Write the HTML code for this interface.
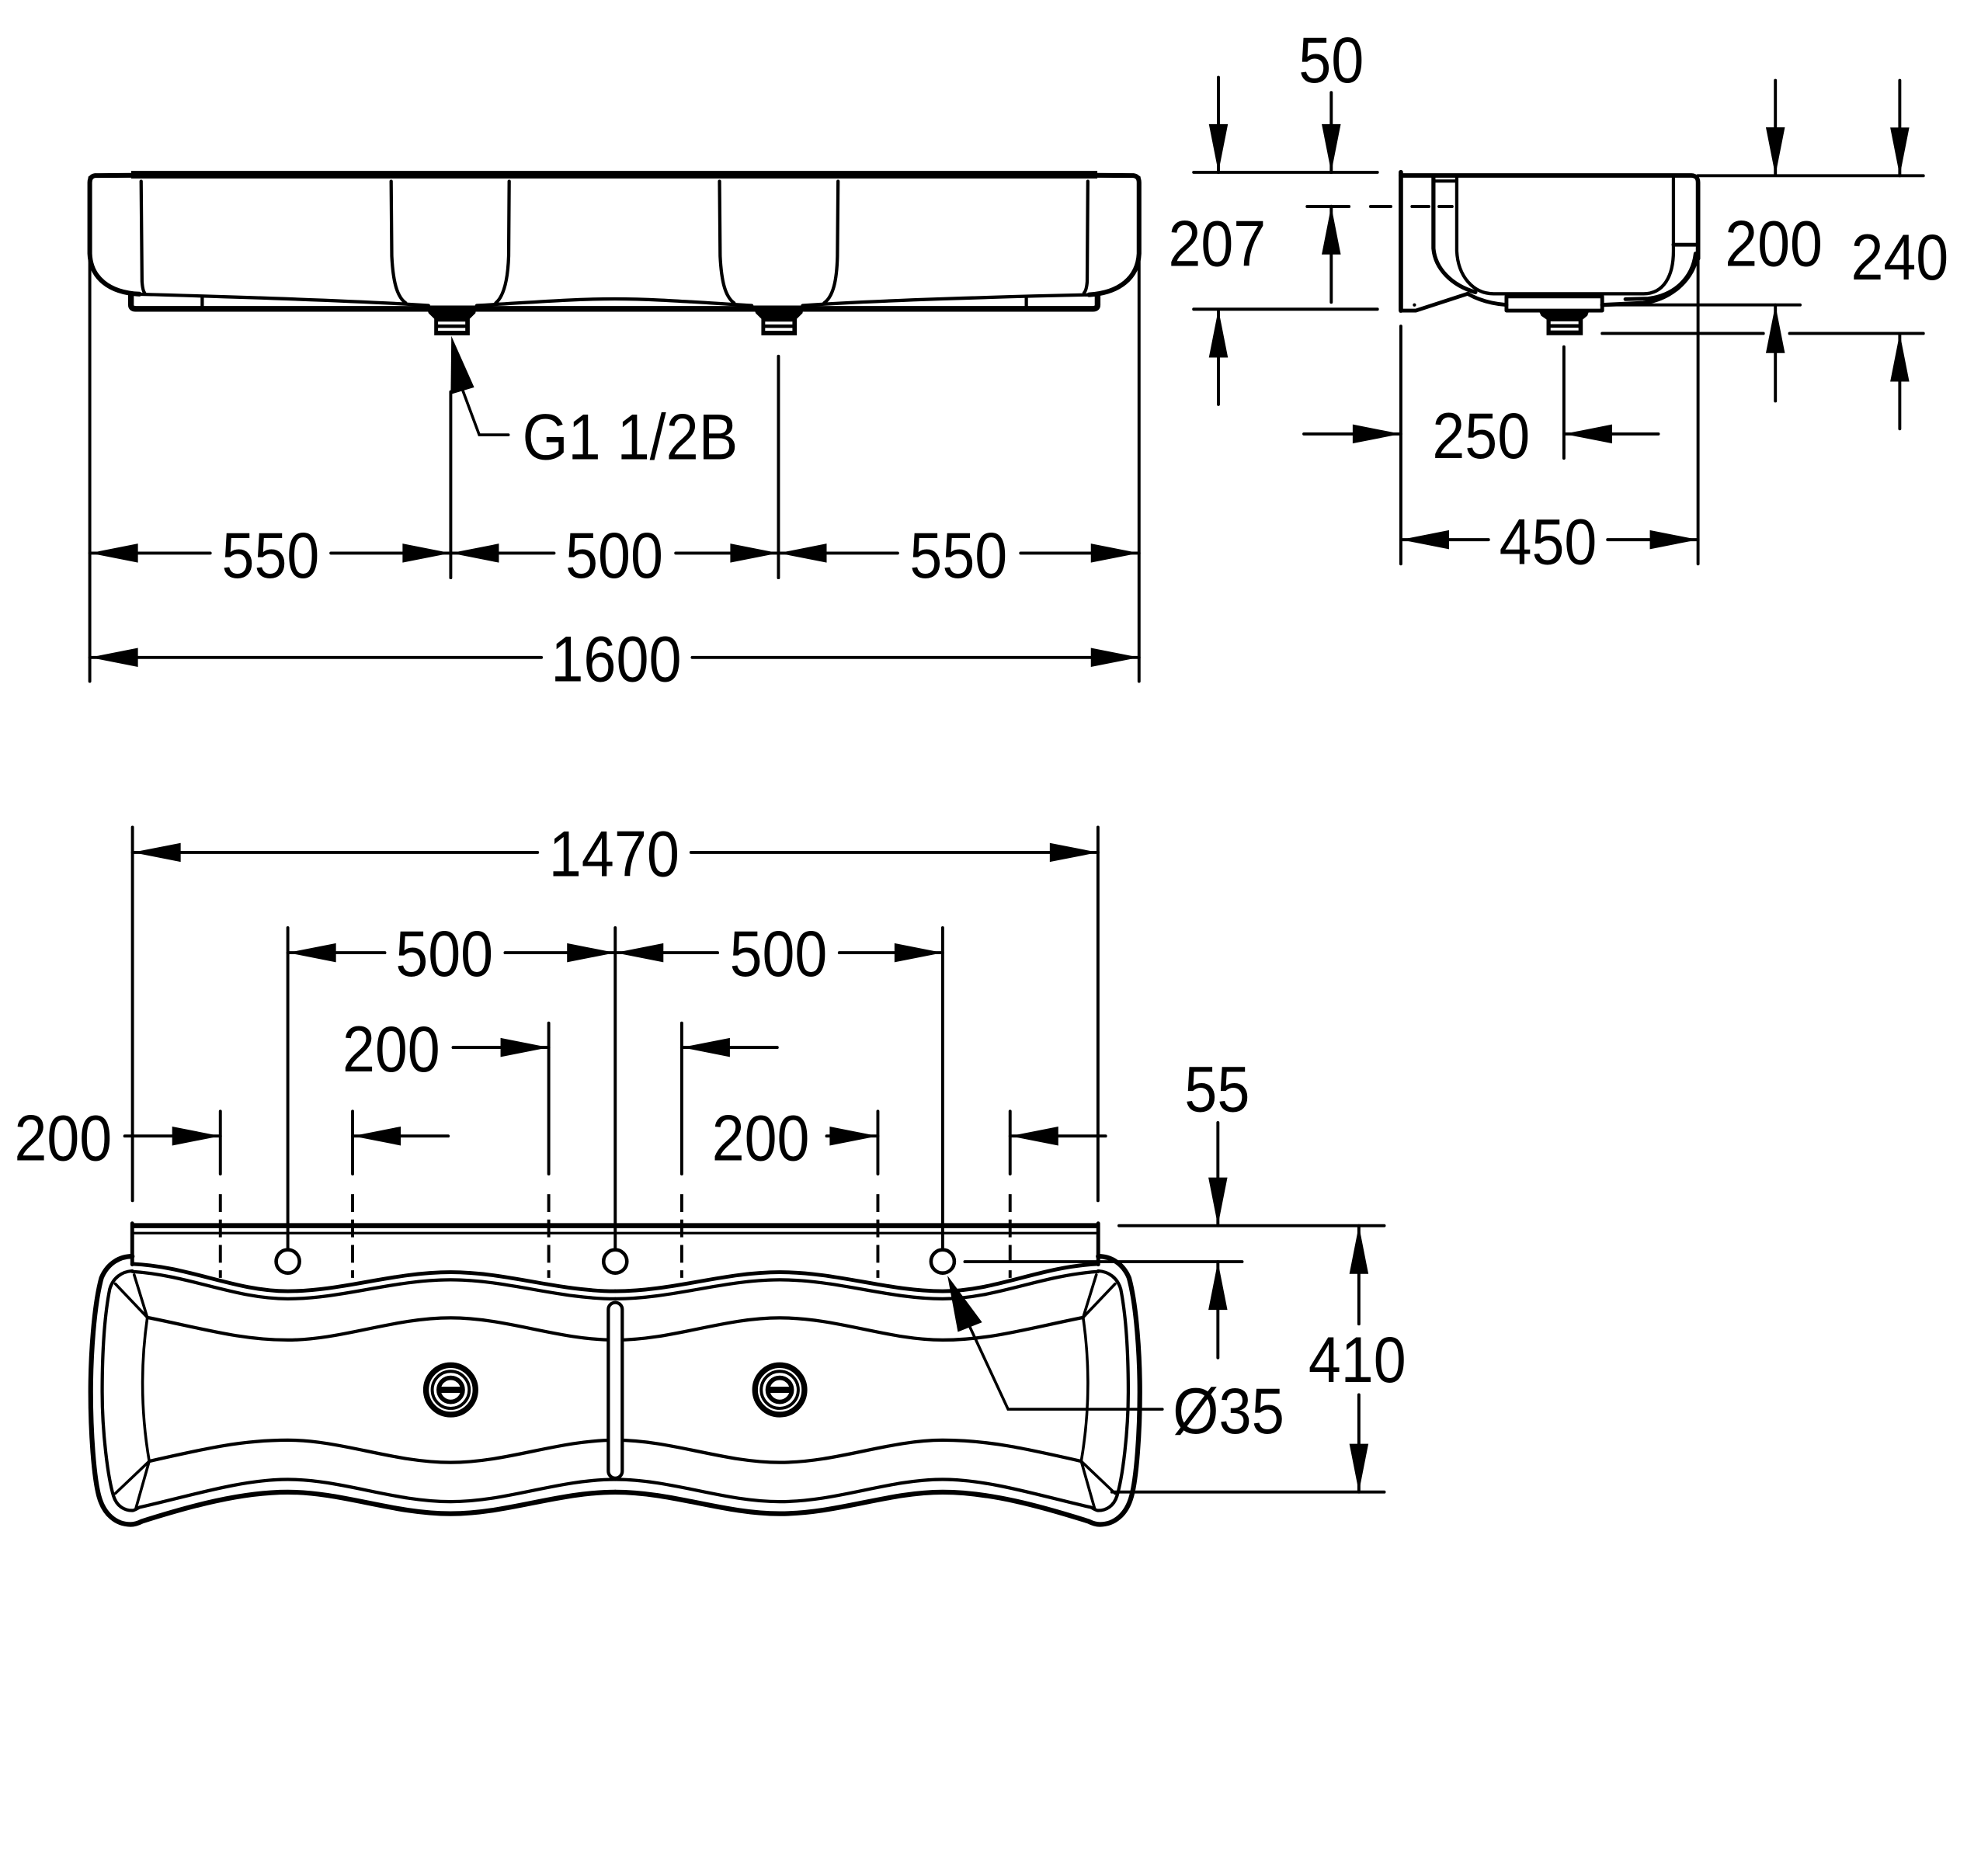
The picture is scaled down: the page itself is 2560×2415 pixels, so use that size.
<!DOCTYPE html>
<html><head><meta charset="utf-8"><style>
html,body{margin:0;padding:0;background:#fff;}
svg{display:block;}
text{font-family:"Liberation Sans",Arial,sans-serif;font-size:51px;fill:#000;}
</style></head><body>
<svg xmlns="http://www.w3.org/2000/svg" xmlns:xlink="http://www.w3.org/1999/xlink" width="2560" height="2415" viewBox="0 0 1568 1479" preserveAspectRatio="none">
<rect x="0" y="0" width="1568" height="1479" fill="#fff"/>
<defs>
<g id="half" fill="none" stroke="#000" stroke-linecap="round" stroke-linejoin="round">
 <path d="M104.3,997 C150,999 185,1018.5 227,1018.5 C270,1018.5 310,1003.5 355.5,1003.5 C400,1003.5 440,1018.5 485.25,1018.5" stroke-width="3"/>
 <path d="M104.3,1003 C150,1006 185,1024.5 227,1024.5 C270,1024.5 310,1009.5 355.5,1009.5 C400,1009.5 440,1024.5 485.25,1024.5" stroke-width="2.6"/>
 <path d="M104.3,991 C95,991 85,996 80,1008 C74,1030 71.5,1070 71.5,1098 C71.5,1130 74,1165 78,1180 C82,1195 92,1202.5 103,1202.5 C106,1202.5 109,1201.5 112,1200 C150,1188 190,1177 227,1177 C270,1177 310,1194 355.5,1194 C400,1194 440,1177 485.25,1177" stroke-width="3.8"/>
 <path d="M104.3,1002.5 C96,1003 89,1008 86.5,1017 C82,1040 80.6,1070 80.6,1098 C80.6,1130 85,1165 89.5,1180 C92,1188 98,1191.5 104.3,1191.5 C106,1191.5 108,1190 110,1189 C150,1180 190,1167 227,1167 C270,1167 310,1184.5 355.5,1184.5 C400,1184.5 440,1167 485.25,1167" stroke-width="2.6"/>
 <path d="M116.2,1039.2 C160,1048 190,1057 227,1057 C270,1057 310,1039.5 355.5,1039.5 C400,1039.5 440,1057 485.25,1057" stroke-width="2.6"/>
 <path d="M117.7,1152.6 C160,1143 190,1136 227,1136 C270,1136 310,1153.6 355.5,1153.6 C400,1153.6 440,1136 485.25,1136" stroke-width="2.6"/>
 <path d="M105.8,1005.5 L116.2,1039.2 Q108,1096 117.7,1152.6 L107.3,1189.3" stroke-width="2.2"/>
 <path d="M91,1012.7 L116.2,1039.2 M91,1178 L117.7,1152.6" stroke-width="2.2"/>
 <circle cx="227" cy="995" r="9.2" stroke-width="2.8"/>
 <circle cx="355.5" cy="1096.3" r="19.5" stroke-width="4.5"/>
 <circle cx="355.5" cy="1096.3" r="14.6" stroke-width="2.4"/>
 <circle cx="355.5" cy="1096.3" r="9.5" stroke-width="3.5"/>
 <line x1="346.5" y1="1096.3" x2="364.5" y2="1096.3" stroke-width="4.8" stroke-linecap="butt"/>
</g>
</defs>

<!-- ================= FRONT VIEW (top left) ================= -->
<g fill="none" stroke="#000" stroke-linecap="round" stroke-linejoin="round">
 <line x1="103.5" y1="137.8" x2="865.5" y2="137.8" stroke-width="6" stroke-linecap="butt"/>
 <path d="M104,138.3 L75,138.5 Q70.8,139 70.8,144 L70.8,200 C71.5,219 86,231 110,232" stroke-width="3.7"/>
 <path d="M865,138.3 L894,138.5 Q898.4,139 898.4,144 L898.4,200 C897.5,219 883,231 859,232.5" stroke-width="3.7"/>
 <path d="M108,232 C180,234 280,237 338,241" stroke-width="2.6"/>
 <path d="M376,241 C420,238.5 450,235.8 484.75,235.8 C519,235.8 549,238.5 593,241" stroke-width="2.6"/>
 <path d="M633,241 C690,237 790,234 861,232.5" stroke-width="2.6"/>
 <path d="M103.3,233 L103.3,240.5 Q103.3,243.6 107,243.6 L862,243.6 Q865.7,243.6 865.7,240.5 L865.7,233" stroke-width="4.5"/>
 <line x1="159.5" y1="234" x2="159.5" y2="243" stroke-width="2.6"/>
 <line x1="809.5" y1="234" x2="809.5" y2="243" stroke-width="2.6"/>
 <path d="M111.3,143 L112,222 Q112.5,229 114,231" stroke-width="2.6"/>
 <path d="M308.5,143 L309,202 C310,222 313,234 320,239" stroke-width="2.6"/>
 <path d="M401.6,143 L401.2,202 C400.5,222 397,234 391,239" stroke-width="2.6"/>
 <path d="M567.5,143 L568,202 C569,222 572,234 579,239" stroke-width="2.6"/>
 <path d="M661,143 L660.5,202 C660,222 657,234 650,239" stroke-width="2.6"/>
 <path d="M858,143 L857.5,222 Q857,229 855,231" stroke-width="2.6"/>
</g>
<!-- drains front -->
<polygon points="336,241 376,241 375,247 370.5,251.5 370.5,264.5 342.5,264.5 342.5,251.5 338,247" fill="#000"/>
<line x1="345.5" y1="254.8" x2="367" y2="254.8" stroke="#fff" stroke-width="2.2"/>
<line x1="345.5" y1="259.8" x2="367" y2="259.8" stroke="#fff" stroke-width="2.2"/>
<polygon points="594,241 634,241 633,247 628.5,251.5 628.5,264.5 600.5,264.5 600.5,251.5 596,247" fill="#000"/>
<line x1="603.5" y1="254.8" x2="625" y2="254.8" stroke="#fff" stroke-width="2.2"/>
<line x1="603.5" y1="259.8" x2="625" y2="259.8" stroke="#fff" stroke-width="2.2"/>

<!-- front view dimensions -->
<g stroke="#000" stroke-width="2.4" stroke-linecap="round" fill="none">
 <line x1="70.8" y1="140" x2="70.8" y2="537.4"/>
 <line x1="898.4" y1="140" x2="898.4" y2="537.4"/>
 <line x1="355.5" y1="309" x2="355.5" y2="455.7"/>
 <line x1="614" y1="281" x2="614" y2="455.7"/>
 <line x1="70.8" y1="436.3" x2="165.8" y2="436.3"/>
 <line x1="261" y1="436.3" x2="355.5" y2="436.3"/>
 <line x1="355.5" y1="436.3" x2="437" y2="436.3"/>
 <line x1="533" y1="436.3" x2="614" y2="436.3"/>
 <line x1="614" y1="436.3" x2="708" y2="436.3"/>
 <line x1="805" y1="436.3" x2="898.4" y2="436.3"/>
 <line x1="70.8" y1="518.6" x2="427" y2="518.6"/>
 <line x1="546" y1="518.6" x2="898.4" y2="518.6"/>
 <path d="M365,308 L378,343 L401,343" stroke-width="2.2"/>
</g>
<g fill="#000">
 <polygon points="356,265 355.5,311 374,305.5"/>
 <polygon points="70.8,436.3 108.8,428.8 108.8,443.8"/>
 <polygon points="355.5,436.3 317.5,428.8 317.5,443.8"/>
 <polygon points="355.5,436.3 393.5,428.8 393.5,443.8"/>
 <polygon points="614,436.3 576,428.8 576,443.8"/>
 <polygon points="614,436.3 652,428.8 652,443.8"/>
 <polygon points="898.4,436.3 860.4,428.8 860.4,443.8"/>
 <polygon points="70.8,518.6 108.8,511.1 108.8,526.1"/>
 <polygon points="898.4,518.6 860.4,511.1 860.4,526.1"/>
</g>
<text x="213.4" y="455.7" text-anchor="middle" textLength="77" lengthAdjust="spacingAndGlyphs">550</text>
<text x="484.5" y="455.7" text-anchor="middle" textLength="77" lengthAdjust="spacingAndGlyphs">500</text>
<text x="756" y="455.7" text-anchor="middle" textLength="77" lengthAdjust="spacingAndGlyphs">550</text>
<text x="486" y="537.5" text-anchor="middle" textLength="103" lengthAdjust="spacingAndGlyphs">1600</text>
<text x="497" y="362.4" text-anchor="middle" textLength="170" lengthAdjust="spacingAndGlyphs">G1 1/2B</text>

<!-- ================= SIDE VIEW (top right) ================= -->
<g fill="none" stroke="#000" stroke-linecap="round" stroke-linejoin="round">
 <line x1="1104.9" y1="135.8" x2="1104.9" y2="245" stroke-width="3.5"/>
 <path d="M1104.9,245 L1116.7,245 L1157.6,231.7" stroke-width="3"/>
 <path d="M1104.9,138.4 L1334,138.4 Q1339.3,138.6 1339.3,144 L1339.3,204" stroke-width="3.5"/>
 <path d="M1130.6,139 L1130.6,196 C1132,212 1145,225 1163.7,230.5" stroke-width="3.2"/>
 <line x1="1130.6" y1="142.8" x2="1149" y2="142.8" stroke-width="2.5"/>
 <path d="M1149,139 L1149,198 C1150,218 1162,231.7 1178,231.7 L1296.4,231.7 C1312,231.7 1319.9,218 1319.9,198 L1319.9,139" stroke-width="2.6"/>
 <line x1="1319.9" y1="193" x2="1337.3" y2="193" stroke-width="3"/>
 <path d="M1337.3,200 C1335,220 1320,233 1300,235.5 L1282,236" stroke-width="3"/>
 <path d="M1263.7,240.5 L1296,239 C1318,236 1333,222 1338,205" stroke-width="3.2"/>
 <path d="M1157.6,231.7 C1165,236 1175,239.5 1188.2,240.5" stroke-width="3"/>
 <rect x="1188.2" y="233.8" width="75.5" height="11.2" stroke-width="3"/>
</g>
<polygon points="1213.7,245 1253.5,245 1252,249 1248.4,252 1248.4,264.4 1219.8,264.4 1219.8,252 1215.5,249" fill="#000"/>
<line x1="1223" y1="254.6" x2="1245" y2="254.6" stroke="#fff" stroke-width="2.2"/>
<line x1="1223" y1="259.6" x2="1245" y2="259.6" stroke="#fff" stroke-width="2.2"/>
<circle cx="1115.6" cy="240.5" r="1.3" fill="#000"/>

<g stroke="#000" stroke-width="2.4" stroke-linecap="round" fill="none">
 <line x1="941.5" y1="135.9" x2="1086.4" y2="135.9"/>
 <line x1="941.5" y1="243.9" x2="1086.4" y2="243.9"/>
 <line x1="961" y1="61" x2="961" y2="136"/>
 <line x1="1050" y1="73" x2="1050" y2="136"/>
 <line x1="961" y1="244" x2="961" y2="319"/>
 <line x1="1050" y1="162.7" x2="1050" y2="238.4"/>
 <line x1="1031" y1="162.9" x2="1064" y2="162.9"/>
 <line x1="1081" y1="162.9" x2="1097" y2="162.9"/>
 <line x1="1113.7" y1="162.9" x2="1127" y2="162.9"/>
 <line x1="1135" y1="162.9" x2="1145.3" y2="162.9"/>
 <line x1="1339.3" y1="204" x2="1339.3" y2="444.8"/>
 <line x1="1339" y1="138.6" x2="1517" y2="138.6"/>
 <line x1="1263.7" y1="240.5" x2="1419.8" y2="240.5"/>
 <line x1="1263.7" y1="263" x2="1390.8" y2="263"/>
 <line x1="1411.5" y1="263" x2="1517" y2="263"/>
 <line x1="1400.3" y1="63.4" x2="1400.3" y2="138.4"/>
 <line x1="1400.3" y1="240.5" x2="1400.3" y2="316.3"/>
 <line x1="1498.4" y1="63.4" x2="1498.4" y2="138.6"/>
 <line x1="1498.4" y1="263" x2="1498.4" y2="338.2"/>
 <line x1="1104.9" y1="257.3" x2="1104.9" y2="444.8"/>
 <line x1="1233.5" y1="273.6" x2="1233.5" y2="361.4"/>
 <line x1="1028.4" y1="342.3" x2="1104.9" y2="342.3"/>
 <line x1="1233.5" y1="342.3" x2="1308" y2="342.3"/>
 <line x1="1104.9" y1="425.7" x2="1174" y2="425.7"/>
 <line x1="1268" y1="425.7" x2="1339.3" y2="425.7"/>
</g>
<g fill="#000">
 <polygon points="961,135.9 953.5,97.9 968.5,97.9"/>
 <polygon points="1050,135.9 1042.5,97.9 1057.5,97.9"/>
 <polygon points="961,244 953.5,282 968.5,282"/>
 <polygon points="1050,162.7 1042.5,200.7 1057.5,200.7"/>
 <polygon points="1400.3,138.4 1392.8,100.4 1407.8,100.4"/>
 <polygon points="1400.3,240.5 1392.8,278.5 1407.8,278.5"/>
 <polygon points="1498.4,138.6 1490.9,100.6 1505.9,100.6"/>
 <polygon points="1498.4,263 1490.9,301 1505.9,301"/>
 <polygon points="1104.9,342.3 1066.9,334.8 1066.9,349.8"/>
 <polygon points="1233.5,342.3 1271.5,334.8 1271.5,349.8"/>
 <polygon points="1104.9,425.7 1142.9,418.2 1142.9,433.2"/>
 <polygon points="1339.3,425.7 1301.3,418.2 1301.3,433.2"/>
</g>
<text x="1050" y="64.8" text-anchor="middle" textLength="51.5" lengthAdjust="spacingAndGlyphs">50</text>
<text x="960" y="209.7" text-anchor="middle" textLength="77" lengthAdjust="spacingAndGlyphs">207</text>
<text x="1399" y="209.7" text-anchor="middle" textLength="77" lengthAdjust="spacingAndGlyphs">200</text>
<text x="1498.4" y="220.6" text-anchor="middle" textLength="77" lengthAdjust="spacingAndGlyphs">240</text>
<text x="1168.2" y="361.4" text-anchor="middle" textLength="77" lengthAdjust="spacingAndGlyphs">250</text>
<text x="1221" y="444.8" text-anchor="middle" textLength="77" lengthAdjust="spacingAndGlyphs">450</text>

<!-- ================= PLAN VIEW (bottom) ================= -->
<use xlink:href="#half" href="#half"/>
<use xlink:href="#half" href="#half" transform="translate(970.5,0) scale(-1,1)"/>
<g fill="none" stroke="#000" stroke-linecap="round">
 <rect x="479.8" y="1027.4" width="11" height="138.6" rx="5.5" fill="#fff" stroke-width="2.6"/>
 <circle cx="485.25" cy="995" r="9.2" stroke-width="2.8"/>
 <line x1="104.3" y1="966.8" x2="866.2" y2="966.8" stroke-width="4" stroke-linecap="butt"/>
 <line x1="104.3" y1="972.7" x2="866.2" y2="972.7" stroke-width="2"/>
 <line x1="104.3" y1="965" x2="104.3" y2="997.4" stroke-width="3"/>
 <line x1="866.2" y1="965" x2="866.2" y2="997.4" stroke-width="3"/>
</g>
<g stroke="#000" stroke-width="2.4" stroke-linecap="round" fill="none">
 <line x1="104.5" y1="652.5" x2="104.5" y2="947"/>
 <line x1="866" y1="652.5" x2="866" y2="947"/>
 <line x1="227" y1="731.8" x2="227" y2="984.5"/>
 <line x1="485.25" y1="731.8" x2="485.25" y2="984.5"/>
 <line x1="743.5" y1="731.8" x2="743.5" y2="984.5"/>
 <line x1="104.5" y1="672.4" x2="424" y2="672.4"/>
 <line x1="545" y1="672.4" x2="866" y2="672.4"/>
 <line x1="227" y1="751.5" x2="303.5" y2="751.5"/>
 <line x1="398.4" y1="751.5" x2="485.25" y2="751.5"/>
 <line x1="485.25" y1="751.5" x2="566" y2="751.5"/>
 <line x1="662" y1="751.5" x2="743.5" y2="751.5"/>
 <line x1="357.4" y1="826.2" x2="432.8" y2="826.2"/>
 <line x1="537.7" y1="826.2" x2="613" y2="826.2"/>
 <line x1="98.4" y1="896.1" x2="173.8" y2="896.1"/>
 <line x1="278.1" y1="896.1" x2="353.5" y2="896.1"/>
 <line x1="652" y1="896.1" x2="692.4" y2="896.1"/>
 <line x1="796.7" y1="896.1" x2="872" y2="896.1"/>
 <line x1="432.8" y1="807" x2="432.8" y2="926"/>
 <line x1="537.7" y1="807" x2="537.7" y2="926"/>
 <line x1="173.8" y1="876.6" x2="173.8" y2="926"/>
 <line x1="278.1" y1="876.6" x2="278.1" y2="926"/>
 <line x1="692.4" y1="876.6" x2="692.4" y2="926"/>
 <line x1="796.7" y1="876.6" x2="796.7" y2="926"/>
 <g stroke-dasharray="14 6" stroke-linecap="butt">
  <line x1="173.8" y1="942" x2="173.8" y2="1008"/>
  <line x1="278.1" y1="942" x2="278.1" y2="1008"/>
  <line x1="432.8" y1="942" x2="432.8" y2="1008"/>
  <line x1="537.7" y1="942" x2="537.7" y2="1008"/>
  <line x1="692.4" y1="942" x2="692.4" y2="1008"/>
  <line x1="796.7" y1="942" x2="796.7" y2="1008"/>
 </g>
 <line x1="960.6" y1="885.5" x2="960.6" y2="966.8"/>
 <line x1="960.6" y1="995.2" x2="960.6" y2="1071"/>
 <line x1="882.6" y1="966.8" x2="1091.8" y2="966.8"/>
 <line x1="761" y1="995.2" x2="979.7" y2="995.2"/>
 <line x1="877" y1="1176.9" x2="1091.8" y2="1176.9"/>
 <line x1="1071.8" y1="966.8" x2="1071.8" y2="1044.3"/>
 <line x1="1071.8" y1="1100.2" x2="1071.8" y2="1176.9"/>
 <path d="M765,1046.8 L795.1,1111.6 L916.8,1111.6" stroke-width="2.2"/>
</g>
<g fill="#000">
 <polygon points="747.3,1006.2 755.5,1050.6 774.6,1043"/>
 <polygon points="104.5,672.4 142.5,664.9 142.5,679.9"/>
 <polygon points="866,672.4 828,664.9 828,679.9"/>
 <polygon points="227,751.5 265,744 265,759"/>
 <polygon points="485.25,751.5 447.25,744 447.25,759"/>
 <polygon points="485.25,751.5 523.25,744 523.25,759"/>
 <polygon points="743.5,751.5 705.5,744 705.5,759"/>
 <polygon points="432.8,826.2 394.8,818.7 394.8,833.7"/>
 <polygon points="537.7,826.2 575.7,818.7 575.7,833.7"/>
 <polygon points="173.8,896.1 135.8,888.6 135.8,903.6"/>
 <polygon points="278.1,896.1 316.1,888.6 316.1,903.6"/>
 <polygon points="692.4,896.1 654.4,888.6 654.4,903.6"/>
 <polygon points="796.7,896.1 834.7,888.6 834.7,903.6"/>
 <polygon points="960.6,966.8 953.1,928.8 968.1,928.8"/>
 <polygon points="960.6,995.2 953.1,1033.2 968.1,1033.2"/>
 <polygon points="1071.8,966.8 1064.3,1004.8 1079.3,1004.8"/>
 <polygon points="1071.8,1176.9 1064.3,1138.9 1079.3,1138.9"/>
</g>
<text x="484.4" y="691.2" text-anchor="middle" textLength="103" lengthAdjust="spacingAndGlyphs">1470</text>
<text x="350.5" y="769.8" text-anchor="middle" textLength="77" lengthAdjust="spacingAndGlyphs">500</text>
<text x="614" y="769.8" text-anchor="middle" textLength="77" lengthAdjust="spacingAndGlyphs">500</text>
<text x="308.6" y="845" text-anchor="middle" textLength="77" lengthAdjust="spacingAndGlyphs">200</text>
<text x="49.8" y="915.4" text-anchor="middle" textLength="77" lengthAdjust="spacingAndGlyphs">200</text>
<text x="600" y="915.4" text-anchor="middle" textLength="77" lengthAdjust="spacingAndGlyphs">200</text>
<text x="960" y="876.6" text-anchor="middle" textLength="51.5" lengthAdjust="spacingAndGlyphs">55</text>
<text x="1070.5" y="1090" text-anchor="middle" textLength="77" lengthAdjust="spacingAndGlyphs">410</text>
<text x="969" y="1130.5" text-anchor="middle" textLength="88" lengthAdjust="spacingAndGlyphs">Ø35</text>
</svg>
</body></html>
